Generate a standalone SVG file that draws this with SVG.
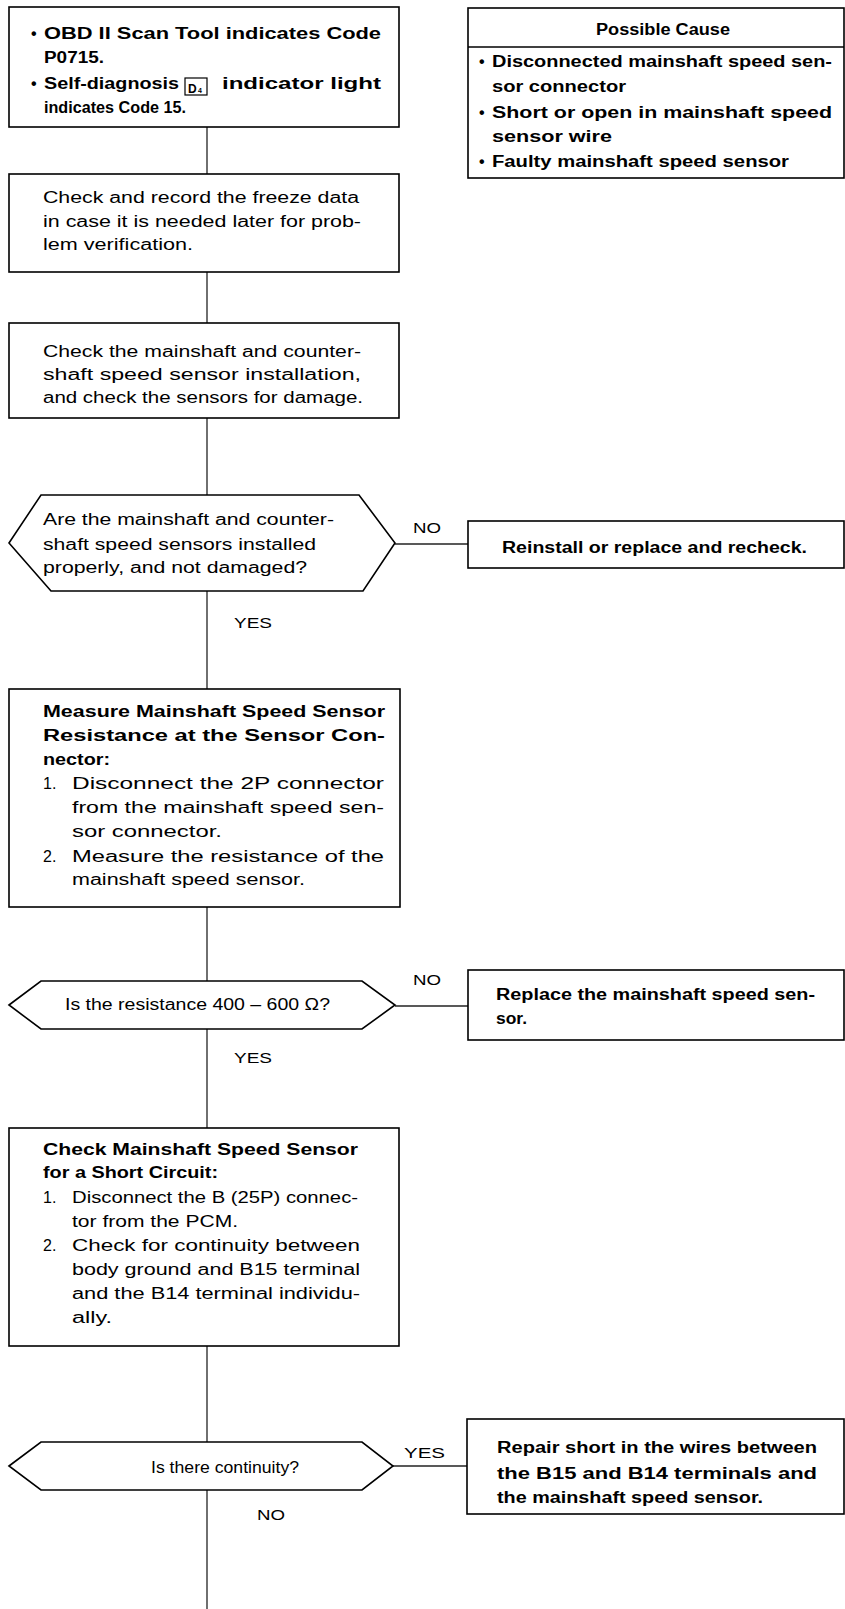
<svg xmlns="http://www.w3.org/2000/svg" width="845" height="1609" viewBox="0 0 845 1609">
<style>
.bx{fill:#fff;stroke:#000;stroke-width:1.6}
.c{stroke:#222;stroke-width:1.3;fill:none}
text{font-family:"Liberation Sans",Arial,Helvetica,sans-serif;font-size:16px;fill:#000}
.b{font-weight:bold}
.l{font-size:15px}
</style>
<rect width="845" height="1609" fill="#fff"/>
<g id="connectors">
<line class="c" x1="207" y1="127" x2="207" y2="174"/>
<line class="c" x1="207" y1="272" x2="207" y2="323"/>
<line class="c" x1="207" y1="418" x2="207" y2="495"/>
<line class="c" x1="207" y1="591" x2="207" y2="689"/>
<line class="c" x1="207" y1="907" x2="207" y2="981"/>
<line class="c" x1="207" y1="1029" x2="207" y2="1128"/>
<line class="c" x1="207" y1="1346" x2="207" y2="1442"/>
<line class="c" x1="207" y1="1490" x2="207" y2="1609"/>
<line class="c" x1="395" y1="544" x2="468" y2="544"/>
<line class="c" x1="395" y1="1006" x2="468" y2="1006"/>
<line class="c" x1="393" y1="1466" x2="467" y2="1466"/>
<text class="l" x="413" y="533" textLength="28" lengthAdjust="spacingAndGlyphs">NO</text>
<text class="l" x="234" y="628" textLength="38" lengthAdjust="spacingAndGlyphs">YES</text>
<text class="l" x="413" y="985" textLength="28" lengthAdjust="spacingAndGlyphs">NO</text>
<text class="l" x="234" y="1063" textLength="38" lengthAdjust="spacingAndGlyphs">YES</text>
<text class="l" x="404" y="1458" textLength="41" lengthAdjust="spacingAndGlyphs">YES</text>
<text class="l" x="257" y="1520" textLength="28" lengthAdjust="spacingAndGlyphs">NO</text>
</g>
<g id="start">
<rect class="bx" x="9" y="7" width="390" height="120"/>
<text class="b" x="31" y="39">•</text>
<text class="b" x="44" y="39" textLength="337" lengthAdjust="spacingAndGlyphs">OBD II Scan Tool indicates Code</text>
<text class="b" x="44" y="63" textLength="60" lengthAdjust="spacingAndGlyphs">P0715.</text>
<text class="b" x="31" y="89">•</text>
<text class="b" x="44" y="89" textLength="135" lengthAdjust="spacingAndGlyphs">Self-diagnosis</text>
<rect x="185" y="78" width="22" height="17" fill="none" stroke="#000" stroke-width="1.2"/>
<text class="b" x="188" y="93" style="font-size:12px">D</text>
<text class="b" x="198" y="93" style="font-size:7px">4</text>
<text class="b" x="222" y="89" textLength="159" lengthAdjust="spacingAndGlyphs">indicator light</text>
<text class="b" x="44" y="113" textLength="142" lengthAdjust="spacingAndGlyphs">indicates Code 15.</text>
</g>
<g id="cause">
<rect class="bx" x="468" y="8" width="376" height="170"/>
<line x1="468" y1="47" x2="844" y2="47" stroke="#000" stroke-width="1.4"/>
<text class="b" x="596" y="35" textLength="134" lengthAdjust="spacingAndGlyphs">Possible Cause</text>
<text class="b" x="479" y="67">•</text>
<text class="b" x="492" y="67" textLength="340" lengthAdjust="spacingAndGlyphs">Disconnected mainshaft speed sen-</text>
<text class="b" x="492" y="92" textLength="134" lengthAdjust="spacingAndGlyphs">sor connector</text>
<text class="b" x="479" y="118">•</text>
<text class="b" x="492" y="118" textLength="340" lengthAdjust="spacingAndGlyphs">Short or open in mainshaft speed</text>
<text class="b" x="492" y="142" textLength="120" lengthAdjust="spacingAndGlyphs">sensor wire</text>
<text class="b" x="479" y="167">•</text>
<text class="b" x="492" y="167" textLength="297" lengthAdjust="spacingAndGlyphs">Faulty mainshaft speed sensor</text>
</g>
<g id="freeze">
<rect class="bx" x="9" y="174" width="390" height="98"/>
<text x="43" y="203" textLength="316" lengthAdjust="spacingAndGlyphs">Check and record the freeze data</text>
<text x="43" y="227" textLength="318" lengthAdjust="spacingAndGlyphs">in case it is needed later for prob-</text>
<text x="43" y="250" textLength="150" lengthAdjust="spacingAndGlyphs">lem verification.</text>
</g>
<g id="install">
<rect class="bx" x="9" y="323" width="390" height="95"/>
<text x="43" y="357" textLength="318" lengthAdjust="spacingAndGlyphs">Check the mainshaft and counter-</text>
<text x="43" y="380" textLength="318" lengthAdjust="spacingAndGlyphs">shaft speed sensor installation,</text>
<text x="43" y="403" textLength="320" lengthAdjust="spacingAndGlyphs">and check the sensors for damage.</text>
</g>
<g id="q1">
<polygon class="bx" points="9,543 41,495 359,495 395,543 363,591 51,591"/>
<text x="43" y="525" textLength="291" lengthAdjust="spacingAndGlyphs">Are the mainshaft and counter-</text>
<text x="43" y="550" textLength="273" lengthAdjust="spacingAndGlyphs">shaft speed sensors installed</text>
<text x="43" y="573" textLength="264" lengthAdjust="spacingAndGlyphs">properly, and not damaged?</text>
</g>
<g id="reinstall">
<rect class="bx" x="468" y="521" width="376" height="47"/>
<text class="b" x="502" y="553" textLength="305" lengthAdjust="spacingAndGlyphs">Reinstall or replace and recheck.</text>
</g>
<g id="measure">
<rect class="bx" x="9" y="689" width="391" height="218"/>
<text class="b" x="43" y="717" textLength="342" lengthAdjust="spacingAndGlyphs">Measure Mainshaft Speed Sensor</text>
<text class="b" x="43" y="741" textLength="342" lengthAdjust="spacingAndGlyphs">Resistance at the Sensor Con-</text>
<text class="b" x="43" y="765" textLength="67" lengthAdjust="spacingAndGlyphs">nector:</text>
<text x="43" y="789">1.</text>
<text x="72" y="789" textLength="312" lengthAdjust="spacingAndGlyphs">Disconnect the 2P connector</text>
<text x="72" y="813" textLength="312" lengthAdjust="spacingAndGlyphs">from the mainshaft speed sen-</text>
<text x="72" y="837" textLength="150" lengthAdjust="spacingAndGlyphs">sor connector.</text>
<text x="43" y="862">2.</text>
<text x="72" y="862" textLength="312" lengthAdjust="spacingAndGlyphs">Measure the resistance of the</text>
<text x="72" y="885" textLength="233" lengthAdjust="spacingAndGlyphs">mainshaft speed sensor.</text>
</g>
<g id="q2">
<polygon class="bx" points="9,1005 41,981 362,981 395,1005 362,1029 41,1029"/>
<text x="65" y="1010" textLength="265" lengthAdjust="spacingAndGlyphs">Is the resistance 400 – 600 Ω?</text>
</g>
<g id="replace">
<rect class="bx" x="468" y="970" width="376" height="70"/>
<text class="b" x="496" y="1000" textLength="319" lengthAdjust="spacingAndGlyphs">Replace the mainshaft speed sen-</text>
<text class="b" x="496" y="1024" textLength="31" lengthAdjust="spacingAndGlyphs">sor.</text>
</g>
<g id="short">
<rect class="bx" x="9" y="1128" width="390" height="218"/>
<text class="b" x="43" y="1155" textLength="315" lengthAdjust="spacingAndGlyphs">Check Mainshaft Speed Sensor</text>
<text class="b" x="43" y="1178" textLength="175" lengthAdjust="spacingAndGlyphs">for a Short Circuit:</text>
<text x="43" y="1203">1.</text>
<text x="72" y="1203" textLength="286" lengthAdjust="spacingAndGlyphs">Disconnect the B (25P) connec-</text>
<text x="72" y="1227" textLength="166" lengthAdjust="spacingAndGlyphs">tor from the PCM.</text>
<text x="43" y="1251">2.</text>
<text x="72" y="1251" textLength="288" lengthAdjust="spacingAndGlyphs">Check for continuity between</text>
<text x="72" y="1275" textLength="288" lengthAdjust="spacingAndGlyphs">body ground and B15 terminal</text>
<text x="72" y="1299" textLength="288" lengthAdjust="spacingAndGlyphs">and the B14 terminal individu-</text>
<text x="72" y="1323" textLength="40" lengthAdjust="spacingAndGlyphs">ally.</text>
</g>
<g id="q3">
<polygon class="bx" points="9,1466 41,1442 362,1442 393,1466 362,1490 41,1490"/>
<text x="151" y="1473" textLength="148" lengthAdjust="spacingAndGlyphs">Is there continuity?</text>
</g>
<g id="repair">
<rect class="bx" x="467" y="1419" width="377" height="95"/>
<text class="b" x="497" y="1453" textLength="320" lengthAdjust="spacingAndGlyphs">Repair short in the wires between</text>
<text class="b" x="497" y="1479" textLength="320" lengthAdjust="spacingAndGlyphs">the B15 and B14 terminals and</text>
<text class="b" x="497" y="1503" textLength="266" lengthAdjust="spacingAndGlyphs">the mainshaft speed sensor.</text>
</g>
</svg>
